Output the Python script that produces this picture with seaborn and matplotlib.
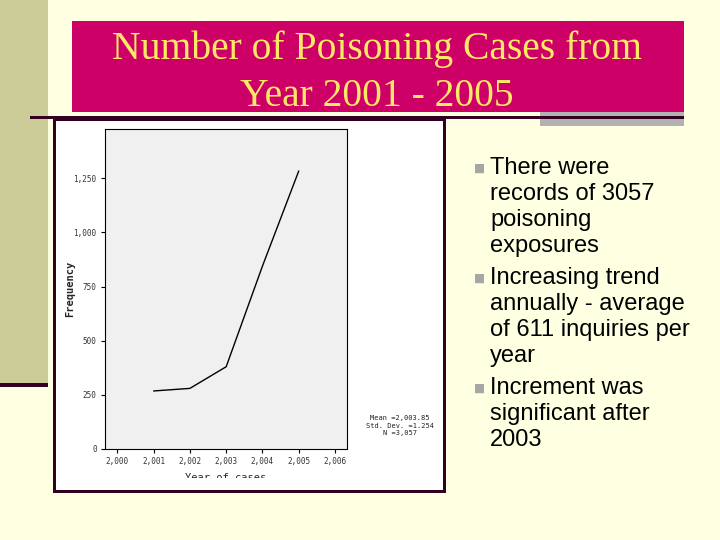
import numpy as np
import pandas as pd
import matplotlib
matplotlib.use("Agg")
import matplotlib.pyplot as plt
from matplotlib.patches import Rectangle
import seaborn as sns

# data
years = [2001, 2002, 2003, 2004, 2005]
cases = [268, 280, 380, 845, 1284]
y_ticks = [0, 250, 500, 750, 1000, 1250]
x_ticks = [2000, 2001, 2002, 2003, 2004, 2005, 2006]

title_lines = ["Number of Poisoning Cases from", "Year 2001 - 2005"]
stats_lines = ["Mean =2,003.85", "Std. Dev. =1.254", "N =3,057"]
bullets = [
    ["There were", "records of 3057", "poisoning", "exposures"],
    ["Increasing trend", "annually - average", "of 611 inquiries per", "year"],
    ["Increment was", "significant after", "2003"],
]

BG = "#FFFFE1"
OLIVE = "#CCCC99"
PINK = "#CC0066"
MAROON = "#330022"
GREY = "#B2B2B2"

W, H = 720, 540


def fx(x):
    return x / W


def fy(y):
    return 1 - y / H


def rect(fig, x0, y0, x1, y1, color, z=-1, **kw):
    fig.add_artist(Rectangle((fx(x0), fy(y1)), (x1 - x0) / W, (y1 - y0) / H,
                             transform=fig.transFigure, facecolor=color,
                             edgecolor="none", zorder=z, **kw))


sns.set_style("white")
fig = plt.figure(figsize=(7.2, 5.4), dpi=100)
fig.patch.set_facecolor(BG)

# slide decoration
rect(fig, 0, 0, 47.5, 383, OLIVE)
rect(fig, 0, 383, 48, 386.5, MAROON)
rect(fig, 72, 21, 684, 111.5, PINK)
rect(fig, 540, 112, 684, 126, GREY)
rect(fig, 30, 116, 684, 119, MAROON, z=-0.5)

# chart picture frame
rect(fig, 53, 118, 446, 493, MAROON, z=-0.8)
rect(fig, 56, 121, 443, 490, "white", z=-0.7)

for i, line in enumerate(title_lines):
    fig.text(fx(377), fy(59 + i * 47.5), line, ha="center", va="baseline",
             fontsize=28.5, color="#FFE866", family="Liberation Serif")

# bullets
y = 168
for group in bullets:
    fig.text(fx(480), fy(y), "\u25A0", ha="center", va="center",
             fontsize=8.5, color="#A6A6A6", family="DejaVu Sans")
    for line in group:
        fig.text(fx(490), fy(y), line, ha="left", va="center",
                 fontsize=17, color="black", family="Liberation Sans")
        y += 26
    y += 6

# the chart itself
ax = fig.add_axes([fx(105), fy(449), 242 / W, 320 / H])
ax.set_facecolor("#F0F0F0")
df = pd.DataFrame({"Year of cases": years, "Frequency": cases})
sns.lineplot(data=df, x="Year of cases", y="Frequency", ax=ax,
             color="black", linewidth=1)
ax.set_xlim(1999.66, 2006.33)
ax.set_ylim(0, 1478)
ax.set_xticks(x_ticks)
ax.set_xticklabels([f"{t:,}" for t in x_ticks], family="DejaVu Sans Mono",
                   fontsize=5.5, color="#333333")
ax.set_yticks(y_ticks)
ax.set_yticklabels([f"{t:,}" for t in y_ticks], family="DejaVu Sans Mono",
                   fontsize=5.5, color="#333333")
ax.tick_params(axis="both", direction="out", length=3, width=0.8,
               color="black", bottom=True, left=True, pad=3)
for s in ax.spines.values():
    s.set_color("black")
    s.set_linewidth(0.8)
ax.set_xlabel("Year of cases", family="DejaVu Sans Mono", fontsize=7.5,
              labelpad=5)
ax.set_ylabel("Frequency", family="DejaVu Sans Mono", fontsize=7.5,
              fontweight="bold", labelpad=-1)

# clip the bottom of the x label like in the original picture
rect(fig, 56, 478, 443, 490, "white", z=1)

for i, line in enumerate(stats_lines):
    fig.text(fx(400), fy(418 + i * 7.5), line, ha="center", va="center",
             fontsize=5, family="DejaVu Sans Mono", color="#222222")

fig.savefig("out.png", dpi=100, facecolor=BG)
